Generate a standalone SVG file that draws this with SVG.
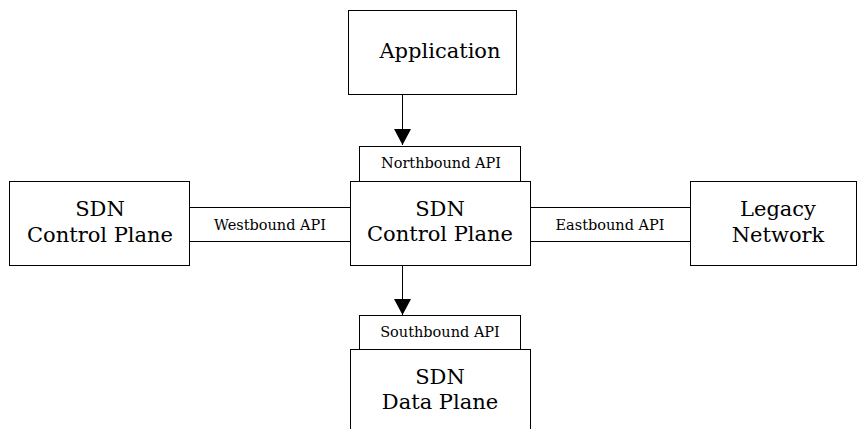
<svg xmlns="http://www.w3.org/2000/svg" width="858" height="429" viewBox="0 0 858 429">
  <style>
    .box { fill: #ffffff; stroke: #000000; stroke-width: 1; }
    .wire { fill: none; stroke: #000000; stroke-width: 1; }
    .big { font-family: "DejaVu Serif", "Liberation Serif", serif; font-size: 21px; fill: #000000; text-anchor: middle; }
    .small { font-family: "DejaVu Serif", "Liberation Serif", serif; font-size: 14.5px; fill: #000000; text-anchor: middle; }
  </style>
  <defs>
    <marker id="arrow" markerWidth="16" markerHeight="17" refX="16" refY="8.5" orient="auto" markerUnits="userSpaceOnUse">
      <path d="M0,0 L16,8.5 L0,17 Z" fill="#000000"/>
    </marker>
  </defs>
  <rect width="858" height="429" fill="#ffffff"/>

  <!-- connectors -->
  <g id="connectors">
    <line class="wire" x1="402.5" y1="94" x2="402.5" y2="145" marker-end="url(#arrow)"/>
    <line class="wire" x1="402.5" y1="265" x2="402.5" y2="315" marker-end="url(#arrow)"/>
    <!-- westbound band -->
    <line class="wire" x1="189" y1="207.5" x2="350" y2="207.5"/>
    <line class="wire" x1="189" y1="241.5" x2="350" y2="241.5"/>
    <!-- eastbound band -->
    <line class="wire" x1="530" y1="207.5" x2="691" y2="207.5"/>
    <line class="wire" x1="530" y1="241.5" x2="691" y2="241.5"/>
    <text class="small" x="270" y="230">Westbound API</text>
    <text class="small" x="610" y="230">Eastbound API</text>
  </g>

  <g id="application">
    <rect class="box" x="348.5" y="10.5" width="168" height="84"/>
    <text class="big" x="440" y="58">Application</text>
  </g>

  <g id="northbound-api">
    <rect class="box" x="359.5" y="146.5" width="161" height="35"/>
    <text class="small" x="441" y="168">Northbound API</text>
  </g>

  <g id="sdn-control-center">
    <rect class="box" x="350.5" y="181.5" width="180" height="84"/>
    <text class="big" x="440" y="216">SDN</text>
    <text class="big" x="440" y="241">Control Plane</text>
  </g>

  <g id="sdn-control-west">
    <rect class="box" x="9.5" y="181.5" width="180" height="84"/>
    <text class="big" x="100" y="216">SDN</text>
    <text class="big" x="100" y="242">Control Plane</text>
  </g>

  <g id="legacy-network">
    <rect class="box" x="690.5" y="181.5" width="166" height="84"/>
    <text class="big" x="778" y="216">Legacy</text>
    <text class="big" x="778" y="242">Network</text>
  </g>

  <g id="southbound-api">
    <rect class="box" x="359.5" y="315.5" width="161" height="34"/>
    <text class="small" x="440" y="337">Southbound API</text>
  </g>

  <g id="sdn-data-plane">
    <rect class="box" x="350.5" y="349.5" width="180" height="90"/>
    <text class="big" x="440" y="384">SDN</text>
    <text class="big" x="440" y="409">Data Plane</text>
  </g>
</svg>
